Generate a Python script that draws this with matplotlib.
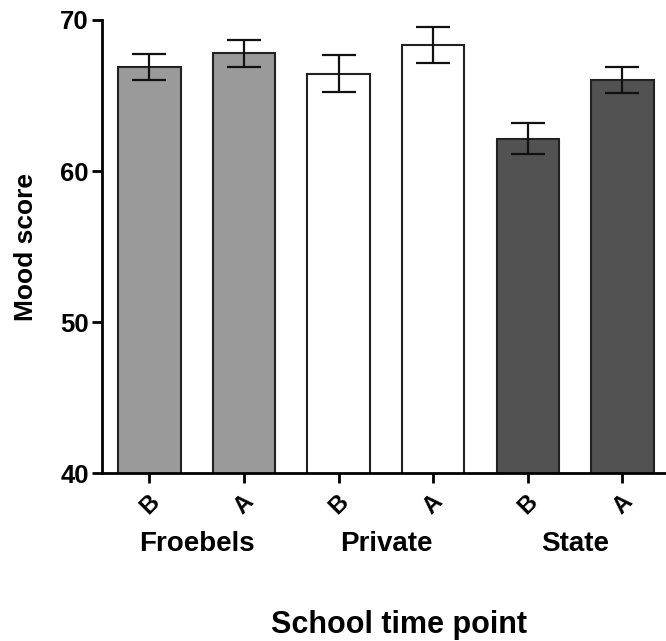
import matplotlib
matplotlib.use("Agg")
import matplotlib.pyplot as plt
import numpy as np

plt.rcParams['font.family'] = ['Liberation Sans', 'DejaVu Sans']
plt.rcParams['font.weight'] = 'bold'

# Mean mood scores and SEM per school and time point (B = before, A = after)
schools = ["Froebels", "Private", "State"]
time_points = ["B", "A", "B", "A", "B", "A"]
means = [66.9, 67.8, 66.45, 68.35, 62.15, 66.0]
errors = [0.88, 0.9, 1.25, 1.2, 1.03, 0.86]
school_colors = ["#999a99", "#ffffff", "#525252"]

fig = plt.figure(figsize=(6.66, 6.41), dpi=100)
ax = fig.add_axes([0.1532, 0.262, 0.8468, 0.7068])

x = np.arange(len(means))
colors = [school_colors[i // 2] for i in range(len(means))]
ax.bar(x, means, width=0.66, color=colors, edgecolor="#222222", linewidth=1.5,
       zorder=2)
ax.errorbar(x, means, yerr=errors, fmt="none", ecolor="#111111", elinewidth=1.6,
            capsize=12, capthick=1.6, zorder=3)

ax.set_ylim(40, 70)
ax.set_xlim(-0.5, 5.46)
ax.set_yticks([40, 50, 60, 70])
ax.set_xticks(x)
ax.set_xticklabels(time_points, rotation=45, ha="center", va="top", fontsize=17,
                   fontweight="bold")

ax.tick_params(axis="y", labelsize=18.5, length=7.5, width=2, pad=2)
ax.tick_params(axis="x", length=7.5, width=2, pad=5)
for lbl in ax.get_yticklabels():
    lbl.set_fontweight("bold")

for side in ["top", "right"]:
    ax.spines[side].set_visible(False)
for side in ["left", "bottom"]:
    ax.spines[side].set_linewidth(2)

ax.set_ylabel("Mood score", fontsize=19, fontweight="bold", labelpad=16)

# School names centred under each pair of bars
for i, name in enumerate(schools):
    ax.annotate(name, xy=(2 * i + 0.5, 0), xycoords=("data", "axes fraction"),
                xytext=(0, -51), textcoords="offset points",
                ha="center", va="center", fontsize=20, fontweight="bold")

fig.text(0.599, 0.0125, "School time point", ha="center", va="baseline",
         fontsize=22, fontweight="bold")

fig.savefig("out.png", dpi=100)
